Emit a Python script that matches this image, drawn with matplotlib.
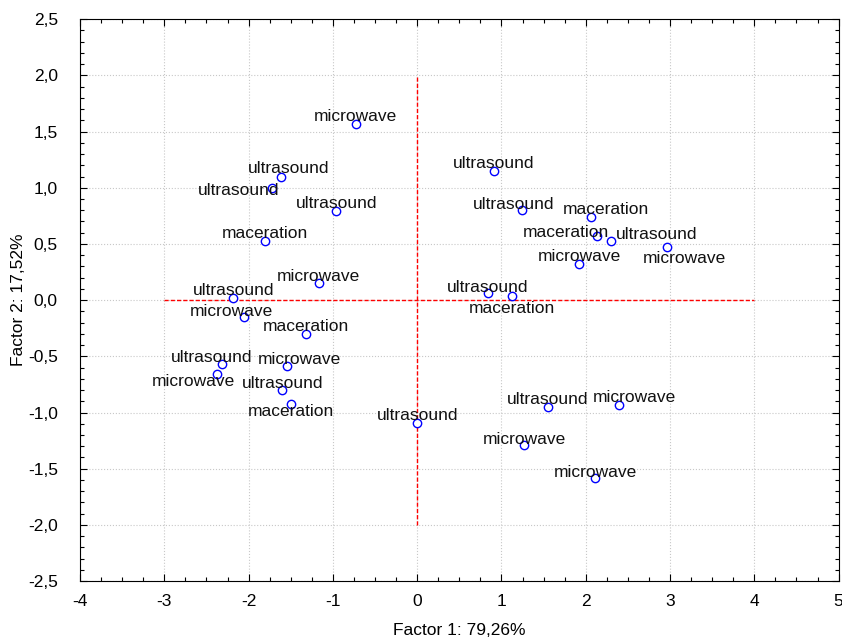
import numpy as np
import matplotlib.pyplot as plt
from matplotlib.ticker import MultipleLocator, FuncFormatter

plt.rcParams['font.family'] = ['Liberation Sans', 'DejaVu Sans']

labels = ['microwave', 'ultrasound', 'ultrasound', 'ultrasound', 'maceration',
          'microwave', 'ultrasound', 'microwave', 'maceration', 'ultrasound',
          'microwave', 'microwave', 'ultrasound', 'maceration', 'ultrasound',
          'ultrasound', 'ultrasound', 'maceration', 'maceration', 'ultrasound',
          'microwave', 'microwave', 'ultrasound', 'maceration', 'ultrasound',
          'microwave', 'microwave', 'microwave']
factor1 = [-0.73, -1.61, -1.72, -0.96, -1.81, -1.17, -2.18, -2.05, -1.32, -2.32,
           -2.38, -1.55, -1.60, -1.50, 0.00, 0.91, 1.24, 2.06, 2.13, 2.30,
           2.96, 1.92, 0.84, 1.12, 1.55, 2.40, 1.27, 2.11]
factor2 = [1.57, 1.10, 1.00, 0.79, 0.53, 0.15, 0.02, -0.15, -0.30, -0.57,
           -0.66, -0.59, -0.80, -0.92, -1.09, 1.15, 0.80, 0.74, 0.57, 0.53,
           0.475, 0.32, 0.06, 0.04, -0.95, -0.93, -1.29, -1.58]
# label offsets in points (dx, dy) relative to the point
offsets = [(0, 7), (5, 8), (-24, 0), (0, 7.5), (0, 7), (0, 7), (0, 7), (-9, 6),
           (0, 7), (-7, 7), (-17, -3.5), (9, 7), (0, 6.5), (0, -3.5), (0, 7),
           (0, 7), (-6, 6.5), (11, 7.5), (-22, 4.5), (33, 6.5), (13, -6.5), (0, 7.5),
           (0, 6.5), (0, -7.5), (0, 7), (11, 7.5), (0, 6), (0, 6)]

fig = plt.figure(figsize=(8.42, 6.4), dpi=100)
ax = fig.add_axes([0.095, 0.092, 0.901, 0.878])

ax.set_xlim(-4, 5)
ax.set_ylim(-2.5, 2.5)
ax.xaxis.set_major_locator(MultipleLocator(1))
ax.xaxis.set_minor_locator(MultipleLocator(0.25))
ax.yaxis.set_major_locator(MultipleLocator(0.5))
ax.yaxis.set_minor_locator(MultipleLocator(0.1))
ax.yaxis.set_major_formatter(FuncFormatter(lambda v, p: f'{v:.1f}'.replace('.', ',')))
ax.xaxis.set_major_formatter(FuncFormatter(lambda v, p: f'{v:.0f}'))

ax.grid(True, which='major', color='#c8c8c8', linestyle=':', linewidth=0.8)
ax.set_axisbelow(True)
ax.tick_params(which='both', direction='in', top=True, right=True, labelsize=12.5)
ax.tick_params(which='major', length=5, width=0.8)
ax.tick_params(which='minor', length=3, width=0.8)
ax.tick_params(axis='y', pad=16)
ax.tick_params(axis='x', pad=9)

ax.plot([0, 0], [-2, 2], color='#ff0000', linestyle='--', linewidth=1.0, dashes=(3, 1.5))
ax.plot([-3, 4], [0, 0], color='#ff0000', linestyle='--', linewidth=1.0, dashes=(3, 1.5))

ax.plot(factor1, factor2, linestyle='none', marker='o', markersize=6,
        markerfacecolor='white', markeredgecolor='#0000ff', markeredgewidth=1.0)

for lab, x, y, (dx, dy) in zip(labels, factor1, factor2, offsets):
    ax.annotate(lab, (x, y), xytext=(dx, dy - 2), textcoords='offset points',
                ha='center', va='center', fontsize=12.5, color='#111111')

ax.set_xlabel('Factor 1: 79,26%', fontsize=12.5, labelpad=10)
ax.set_ylabel('Factor 2: 17,52%', fontsize=12.5, labelpad=1)

fig.savefig('out.png', dpi=100)
